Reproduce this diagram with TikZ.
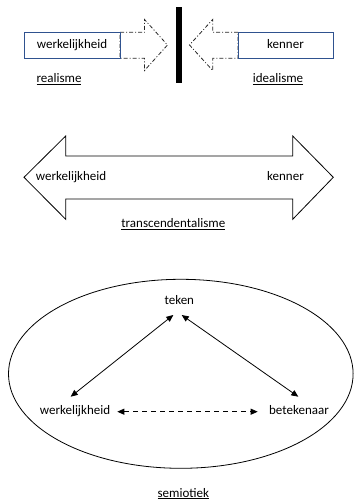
\documentclass[tikz,border=0pt]{standalone}
\usepackage{fontspec}
\setmainfont{Carlito}
\usetikzlibrary{arrows.meta}
\definecolor{boxblue}{HTML}{2F528F}
\begin{document}
\begin{tikzpicture}[x=1pt,y=-1pt,
  every node/.style={font=\fontsize{13}{15}\selectfont, inner sep=0pt, text height=8.5pt, text depth=2.5pt},
  bluebox/.style={draw=boxblue, line width=0.9pt},
  dashdot/.style={draw=black!85, line width=0.8pt, dash pattern=on 4pt off 2pt on 1pt off 2pt},
  bigarrow/.style={draw=black, line width=0.8pt},
  tip/.style={{Triangle[length=7pt,width=6pt]}-{Triangle[length=7pt,width=6pt]}, line width=0.8pt},
  dashline/.style={dash pattern=on 5pt off 4pt}
]
\useasboundingbox (0,0) rectangle (354,502);
% --- top: realisme / idealisme
\draw[dashdot] (120,32.3) -- (144.5,32.3) -- (144.5,19.5) -- (167.5,45) -- (144.5,70.5) -- (144.5,58.3) -- (120,58.3) -- cycle;
\draw[dashdot] (238,32.3) -- (212.7,32.3) -- (212.7,19.5) -- (189.5,45) -- (212.7,70.5) -- (212.7,58.3) -- (238,58.3) -- cycle;
\node[bluebox, minimum width=96pt, minimum height=26pt] (wbox) at (72,45.3) {werkelijkheid};
\node[bluebox, minimum width=95pt, minimum height=26pt] (kbox) at (285.5,45.3) {kenner};
\fill (176.3,7.5) rectangle (181.8,82.7);
\node (real) at (59,80) {\underline{realisme}};
\node (ideal) at (278,80) {\underline{idealisme}};
% --- middle: transcendentalisme
\draw[bigarrow] (24,177.3) -- (65.7,136) -- (65.7,156) -- (292.7,156) -- (292.7,136) -- (333.3,177.3) -- (292.7,219.3) -- (292.7,199) -- (65.7,199) -- (65.7,219.3) -- cycle;
\node[anchor=west] (w2) at (35.7,177.3) {werkelijkheid};
\node[anchor=east] (k2) at (304,177.3) {kenner};
\node (trans) at (173.3,225) {\underline{transcendentalisme}};
% --- bottom: semiotiek
\draw[line width=0.8pt] (180.8,373.8) ellipse [x radius=172.3pt, y radius=94.5pt];
\node (teken) at (179.3,301.7) {teken};
\node (werk) at (75,411.7) {werkelijkheid};
\node (betek) at (299,411.7) {betekenaar};
\draw[tip] ([xshift=-6pt,yshift=-13.3pt]teken.center) -- ([xshift=-4.3pt,yshift=15pt]werk.center);
\draw[tip] ([xshift=2.4pt,yshift=-13.3pt]teken.center) -- ([xshift=-0.7pt,yshift=15pt]betek.center);
\draw[tip, dashline] ([xshift=42.3pt]werk.center) -- ([xshift=-41.3pt]betek.center);
\node (semi) at (183.3,494) {\underline{semiotiek}};
\end{tikzpicture}
\end{document}
